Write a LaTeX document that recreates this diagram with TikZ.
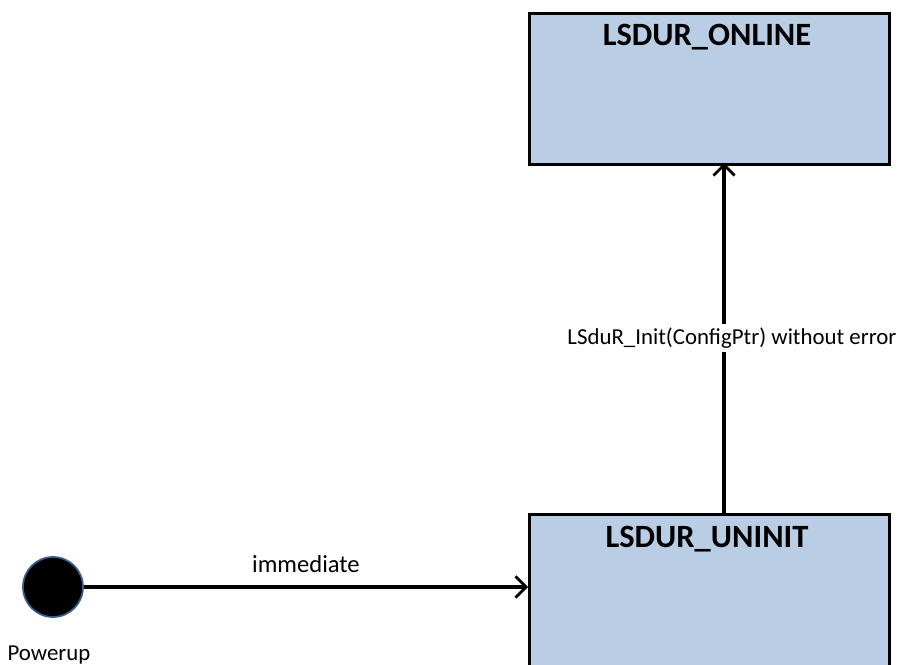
\documentclass[tikz,border=0pt]{standalone}
\usepackage{fontspec}
\setmainfont{Carlito}
\usetikzlibrary{arrows.meta}
\definecolor{statefill}{HTML}{B9CDE5}
\definecolor{initrim}{HTML}{385D8A}
\tikzset{
  px/.style={x=0.02cm,y=-0.02cm},
  statebox/.style={draw=black,fill=statefill,line width=1.6pt,rectangle,
    anchor=north west,minimum width=7.2cm,inner sep=0pt},
  statetitle/.style={font=\fontsize{18.5}{22}\selectfont\bfseries},
  transition/.style={line width=1.8pt,-{Straight Barb[length=6pt,width=12pt,line width=1.6pt]}},
  translabel/.style={font=\fontsize{13}{16}\selectfont},
}
\begin{document}
\begin{tikzpicture}[px]
\clip (0,0) rectangle (900,665);
\fill[white] (0,0) rectangle (900,665);

% states
\node[statebox,minimum height=3.02cm] (online) at (528,12) {};
\node[statebox,minimum height=3.3cm] (uninit) at (528,513) {};
\node[statetitle] (onlinetitle) at (707,37) {LSDUR\_ONLINE};
\node[statetitle] (uninittitle) at (707,539) {LSDUR\_UNINIT};

% initial pseudo state
\node[circle,fill=black,draw=initrim,line width=1pt,minimum size=1.2cm,inner sep=0pt] (power) at (53,587) {};
\node[translabel,anchor=base] (powerlabel) at (49,661) {Powerup};

% transitions
\coordinate (uninitleft) at (528,587);
\coordinate (uninittop) at (724,513);
\coordinate (onlinebottom) at (724,163);
\draw[transition] (power.east) -- (uninitleft)
  node[translabel,font=\fontsize{14}{17}\selectfont,midway,above,yshift=0.13cm] {immediate};
\draw[transition] (uninittop) -- (onlinebottom)
  node[translabel,midway,fill=white,inner sep=2pt,xshift=0.16cm] {LSduR\_Init(ConfigPtr) without error};
\end{tikzpicture}
\end{document}
